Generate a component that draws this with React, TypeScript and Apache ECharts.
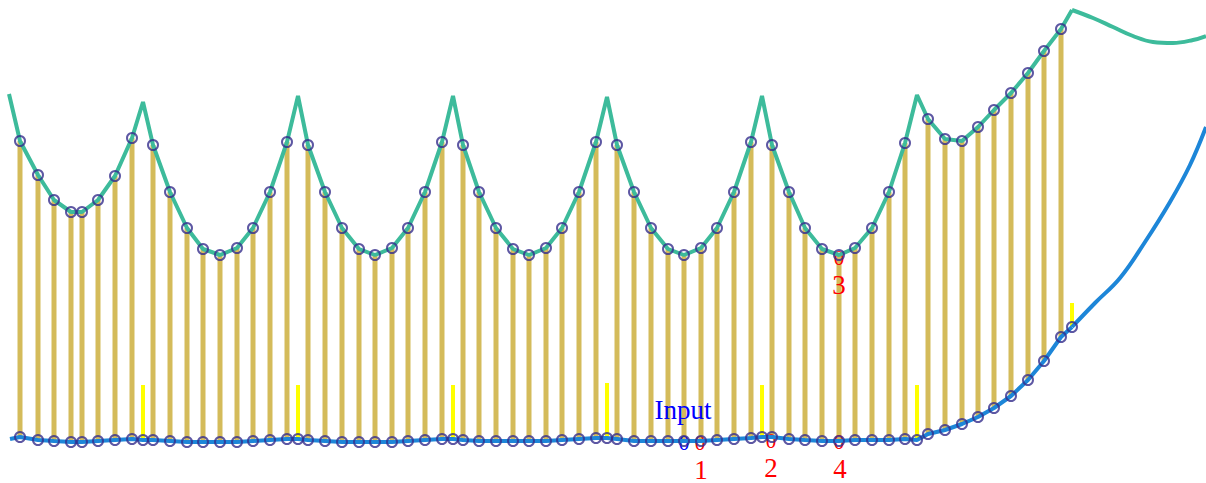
import React, { useEffect, useRef } from "react";
import * as echarts from "echarts";

// Sample positions along the horizontal axis (markers + cusps)
const sampleX = [
  20, 38, 54, 71, 82, 98, 115, 132, 143,
  153, 170, 187, 203, 220, 237, 253, 270, 287, 298,
  308, 325, 342, 359, 375, 392, 408, 425, 442, 453,
  463, 479, 496, 513, 529, 546, 562, 579, 596, 607,
  617, 634, 651, 668, 684, 701, 717, 734, 751, 762,
  772, 789, 805, 822, 839, 855, 872, 889, 905, 917,
  928, 945, 962, 978, 994, 1011, 1028, 1044, 1061, 1072,
];

// Upper (teal) curve values at the samples
const tealValues = [
  342, 308, 283, 271, 271, 283, 307, 345, 381,
  338, 291, 255, 234, 228, 235, 255, 291, 341, 387,
  338, 291, 255, 234, 228, 235, 255, 291, 341, 387,
  338, 291, 255, 234, 228, 235, 255, 291, 341, 386,
  338, 291, 255, 234, 228, 235, 255, 291, 341, 387,
  338, 291, 255, 234, 228, 235, 255, 291, 340, 388,
  364, 344, 342, 356, 373, 390, 410, 432, 454, 473,
];

// Lower (blue) curve values at the samples
const blueValues = [
  46, 43, 42, 41, 41, 42, 43, 44, 43,
  43, 42, 41, 41, 41, 41, 42, 43, 44, 44,
  43, 42, 41, 41, 41, 41, 42, 43, 44, 44,
  43, 42, 42, 42, 42, 42, 43, 44, 45, 45,
  44, 42, 42, 42, 42, 42, 43, 44, 45, 46,
  46, 44, 43, 42, 42, 43, 43, 43, 44, 43,
  49, 53, 59, 66, 75, 87, 103, 122, 146, 156,
];

// Curve pieces outside the sampled range
const tealLead = [[9, 389]];
const tealTail = [[1072, 473], [1093, 465], [1113, 456], [1133, 447], [1153, 441], [1173, 440], [1193, 443], [1206, 447]];
const blueLead = [[10, 44]];
const blueTail = [[1072, 156], [1095, 180], [1120, 205], [1145, 241], [1170, 281], [1190, 318], [1206, 356]];

// Cusp positions with short yellow bars
const cuspX = [143, 298, 453, 607, 762, 917, 1072];
const cuspTop = [98, 98, 98, 100, 98, 98, 180];

// Annotations
const blueLabelText = ["Input", "0"];
const blueLabelX = [683, 684];
const blueLabelY = [73, 40];
const redLabelText = ["0", "1", "0", "2", "0", "3", "0", "4"];
const redLabelX = [700, 701, 771, 771, 839, 839, 839, 840];
const redLabelY = [40, 13.5, 42, 15.5, 225, 198.5, 41, 14.5];

const TEAL = "#3dbb9b";
const BLUE = "#1d86d8";
const TAN = "#d4bb5a";
const MARK = "#342d8c";

export default function App() {
  const ref = useRef<HTMLDivElement>(null);
  useEffect(() => {
    if (!ref.current) return;
    const chart = echarts.init(ref.current, undefined, { renderer: "svg" });

    const isCusp = (x: number) => cuspX.indexOf(x) >= 0;
    const blueAt = (x: number) => blueValues[sampleX.indexOf(x)];

    const tanData: number[][] = [];
    const tealMarks: number[][] = [];
    const blueMarks: number[][] = [];
    sampleX.forEach((x, i) => {
      blueMarks.push([x, blueValues[i]]);
      if (!isCusp(x)) {
        tanData.push([x, blueValues[i], tealValues[i]]);
        tealMarks.push([x, tealValues[i]]);
      }
    });
    const yellowData = cuspX.map((x, i) => [x, blueAt(x), cuspTop[i]]);
    const tealLine = [...tealLead, ...sampleX.map((x, i) => [x, tealValues[i]])];
    const blueLine = [...blueLead, ...sampleX.map((x, i) => [x, blueValues[i]])];

    const labels: any[] = [];
    blueLabelText.forEach((t, i) =>
      labels.push({ value: [blueLabelX[i], blueLabelY[i]], text: t, color: "#0000ff", size: t === "Input" ? 27 : 21 })
    );
    redLabelText.forEach((t, i) =>
      labels.push({ value: [redLabelX[i], redLabelY[i]], text: t, color: "#ff0000", size: t === "0" ? 21 : 27 })
    );

    const barRender = (color: string, w: number) => (params: any, api: any) => {
      const x = api.value(0);
      const p1 = api.coord([x, api.value(1)]);
      const p2 = api.coord([x, api.value(2)]);
      return {
        type: "line",
        shape: { x1: p1[0], y1: p1[1], x2: p2[0], y2: p2[1] },
        style: { stroke: color, lineWidth: w },
      };
    };

    const markStyle = { color: "rgba(0,0,0,0)", borderColor: MARK, borderWidth: 2 };

    chart.setOption({
      animation: false,
      grid: { left: 0, right: 0, top: 0, bottom: 0 },
      xAxis: { type: "value", min: 0, max: 1206, show: false },
      yAxis: { type: "value", min: 0, max: 483, show: false },
      series: [
        { type: "custom", data: tanData, renderItem: barRender(TAN, 5), z: 1, silent: true },
        { type: "custom", data: yellowData, renderItem: barRender("#ffff00", 4), z: 1, silent: true },
        {
          type: "custom",
          z: 2,
          silent: true,
          data: labels,
          renderItem: (params: any, api: any) => {
            const d = labels[params.dataIndex];
            const p = api.coord(d.value);
            return {
              type: "text",
              x: p[0],
              y: p[1],
              style: {
                text: d.text,
                fill: d.color,
                font: `${d.size}px "Liberation Serif", "Times New Roman", serif`,
                align: "center",
                verticalAlign: "middle",
              },
            };
          },
        },
        { type: "line", data: tealLine, showSymbol: false, lineStyle: { color: TEAL, width: 4 }, z: 3, silent: true },
        { type: "line", data: tealTail, smooth: 0.4, showSymbol: false, lineStyle: { color: TEAL, width: 4 }, z: 3, silent: true },
        { type: "line", data: blueLine, showSymbol: false, lineStyle: { color: BLUE, width: 4 }, z: 3, silent: true },
        { type: "line", data: blueTail, smooth: 0.4, showSymbol: false, lineStyle: { color: BLUE, width: 4 }, z: 3, silent: true },
        { type: "scatter", data: tealMarks, symbol: "circle", symbolSize: 10, itemStyle: markStyle, z: 4, silent: true },
        { type: "scatter", data: blueMarks, symbol: "circle", symbolSize: 10, itemStyle: markStyle, z: 4, silent: true },
      ],
    });
    return () => chart.dispose();
  }, []);
  return (
    <div
      ref={ref}
      style={{ position: "fixed", left: 0, top: 0, width: 1206, height: 483, background: "#ffffff" }}
    />
  );
}
